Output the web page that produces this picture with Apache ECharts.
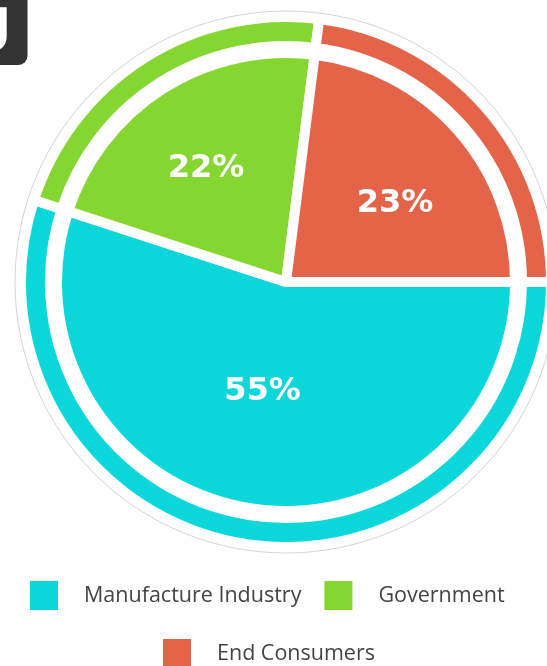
<!DOCTYPE html>
<html>
<head>
<meta charset="utf-8">
<style>
html,body{margin:0;padding:0;background:#fff;}
#chart{width:547px;height:666px;}
</style>
<script src="https://cdn.jsdelivr.net/npm/echarts@6/dist/echarts.min.js"></script>
</head>
<body>
<div id="chart"></div>
<script>
// Data
var categories = ['Manufacture Industry', 'Government', 'End Consumers'];
var shares = [55, 22, 23];
var colors = ['#0BD6DA', '#86D632', '#E4644A'];
var legendRow1 = ['Manufacture Industry', 'Government'];
var legendRow2 = ['End Consumers'];

var pieData = categories.map(function (c, i) {
  return { name: c, value: shares[i], itemStyle: { color: colors[i] } };
});
var labelShift = [ { dx: -5, dy: -6 }, { dx: -17, dy: -14 }, { dx: 21, dy: -1 } ];

var chart = echarts.init(document.getElementById('chart'), null, { renderer: 'canvas' });
var center = [286, 282];
var legendCommon = {
  icon: 'rect',
  itemWidth: 30,
  itemHeight: 31,
  itemGap: 21,
  selectedMode: false,
  textStyle: { fontFamily: 'Open Sans', fontSize: 21.5, color: '#444', padding: [0, 0, 0, 20] }
};
chart.setOption({
  animation: false,
  backgroundColor: '#fff',
  color: colors,
  title: {
    text: 'g',
    left: -60,
    top: -4,
    padding: [0, 16, 11, 30],
    backgroundColor: '#333333',
    borderRadius: [0, 0, 9, 0],
    textStyle: { color: '#fff', fontFamily: 'DejaVu Sans', fontWeight: 'bold', fontSize: 58 }
  },
  legend: [
    Object.assign({}, legendCommon, { data: legendRow1, left: 23, top: 574 }),
    Object.assign({}, legendCommon, { data: legendRow2, left: 156, top: 632 })
  ],
  series: [
    {
      type: 'pie',
      silent: true,
      center: center,
      radius: [0, 271],
      label: { show: false },
      labelLine: { show: false },
      itemStyle: { color: '#fff', borderColor: '#d4d4d4', borderWidth: 1 },
      data: [{ name: 'outline', value: 1 }],
      z: 0
    },
    {
      type: 'pie',
      center: center,
      radius: [236, 265],
      startAngle: 0,
      clockwise: true,
      silent: true,
      label: { show: false },
      labelLine: { show: false },
      itemStyle: { borderColor: '#fff', borderWidth: 10 },
      data: pieData,
      z: 2
    },
    {
      type: 'pie',
      center: center,
      radius: [0, 229],
      startAngle: 0,
      clockwise: true,
      silent: true,
      itemStyle: { borderColor: '#fff', borderWidth: 10 },
      label: {
        show: true,
        position: 'inside',
        formatter: '{c}%',
        color: '#fff',
        fontFamily: 'DejaVu Sans',
        fontWeight: 'bold',
        fontSize: 32
      },
      labelLayout: function (p) { return labelShift[p.dataIndex]; },
      labelLine: { show: false },
      data: pieData,
      z: 3
    }
  ]
});
</script>
</body>
</html>
